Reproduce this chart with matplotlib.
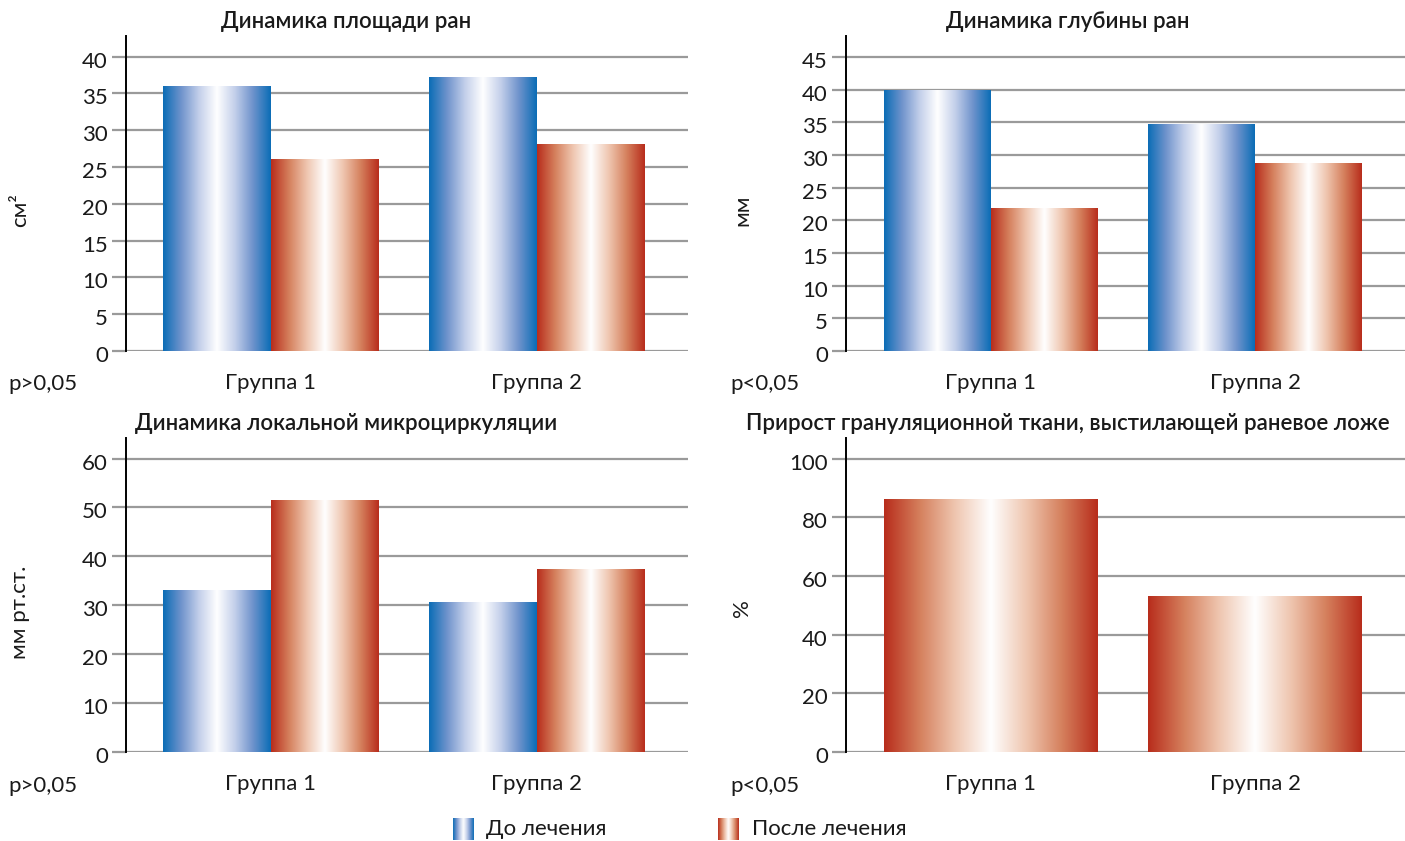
import numpy as np
import matplotlib.pyplot as plt
from matplotlib.colors import LinearSegmentedColormap
from matplotlib.transforms import ScaledTranslation

plt.rcParams['font.family'] = ['Lato', 'DejaVu Sans']

groups = ['Группа 1', 'Группа 2']
legend_labels = ['До лечения', 'После лечения']

# wound area, cm2
area_before = [36.0, 37.1]
area_after = [26.0, 28.1]
# wound depth, mm
depth_before = [39.8, 34.6]
depth_after = [21.8, 28.7]
# local microcirculation, mm Hg
micro_before = [33.1, 30.5]
micro_after = [51.5, 37.4]
# granulation tissue growth, %
granulation = [86.0, 53.0]

titles = ['Динамика площади ран', 'Динамика глубины ран',
          'Динамика локальной микроциркуляции',
          'Прирост грануляционной ткани, выстилающей раневое ложе']
ylabels = ['см²', 'мм', 'мм рт.ст.', '%']
p_values = ['p>0,05', 'p<0,05', 'p>0,05', 'p<0,05']

W, H = 1405, 841
TEXT = '#1a1a1a'
GRID = '#9a9a9a'
FS = 16

blue_cmap = LinearSegmentedColormap.from_list(
    'blue_tube', ['#0b6db6', '#6f93cc', '#c3cfea', '#ffffff',
                  '#c3cfea', '#6f93cc', '#0b6db6'])
red_cmap = LinearSegmentedColormap.from_list(
    'red_tube', ['#b82d1c', '#d5805d', '#efc6b0', '#ffffff',
                 '#efc6b0', '#d5805d', '#b82d1c'])
grad = np.linspace(0, 1, 256).reshape(1, -1)

fig = plt.figure(figsize=(W / 100, H / 100), dpi=100)


def px_axes(x0, x1, ytop, ybot):
    return fig.add_axes([x0 / W, 1 - ybot / H, (x1 - x0) / W, (ybot - ytop) / H])


def gradient_bars(ax, x, heights, width, cmap):
    bars = ax.bar(x, heights, width, color='none', zorder=2)
    for p in bars:
        x0 = p.get_x()
        ax.imshow(grad, extent=(x0, x0 + p.get_width(), 0, p.get_height()),
                  cmap=cmap, aspect='auto', interpolation='bicubic', zorder=2)
    return bars


def style_axes(ax, yticks, ymax, xlim):
    ax.set_xlim(*xlim)
    ax.set_ylim(0, ymax)
    ax.set_yticks(yticks)
    ax.set_xticks(range(len(groups)))
    ax.set_xticklabels(groups)
    ax.grid(axis='y', color=GRID, lw=1.6)
    ax.set_axisbelow(True)
    for s in ['top', 'right', 'bottom']:
        ax.spines[s].set_visible(False)
    ax.spines['left'].set_color('black')
    ax.spines['left'].set_linewidth(1.4)
    ax.spines['left'].set_zorder(3)
    ax.tick_params(axis='y', length=10, width=1.6, color=GRID, pad=3,
                   labelsize=FS, labelcolor=TEXT)
    ax.tick_params(axis='x', length=0, pad=16, labelsize=FS, labelcolor=TEXT)
    off = ScaledTranslation(0, -3 / 100, fig.dpi_scale_trans)
    for lab in ax.get_yticklabels():
        lab.set_transform(lab.get_transform() + off)


x = np.arange(len(groups))
w = 0.405

ax1 = px_axes(126, 688, 36, 351)
gradient_bars(ax1, x - w / 2, area_before, w, blue_cmap)
gradient_bars(ax1, x + w / 2, area_after, w, red_cmap)
style_axes(ax1, np.arange(0, 41, 5), 42.8, (-0.545, 1.568))

ax2 = px_axes(846, 1405, 36, 351)
gradient_bars(ax2, x - w / 2, depth_before, w, blue_cmap)
gradient_bars(ax2, x + w / 2, depth_after, w, red_cmap)
style_axes(ax2, np.arange(0, 46, 5), 48.2, (-0.549, 1.568))

ax3 = px_axes(126, 688, 438, 752)
gradient_bars(ax3, x - w / 2, micro_before, w, blue_cmap)
gradient_bars(ax3, x + w / 2, micro_after, w, red_cmap)
style_axes(ax3, np.arange(0, 61, 10), 64.2, (-0.545, 1.568))

ax4 = px_axes(846, 1405, 438, 752)
gradient_bars(ax4, x, granulation, 2 * w, red_cmap)
style_axes(ax4, np.arange(0, 101, 20), 107, (-0.549, 1.568))

# titles, units and p-values
title_pos = [(346, 22), (1068, 22), (346, 424), (1068, 424)]
ylabel_pos = [(20, 210), (742, 210), (20, 612), (742, 608)]
p_pos = [(8, 384), (730, 384), (8, 786), (730, 786)]
for t, (tx, ty) in zip(titles, title_pos):
    fig.text(tx / W, 1 - ty / H, t, ha='center', va='center', fontsize=FS,
             color=TEXT, fontweight='semibold')
for t, (tx, ty) in zip(ylabels, ylabel_pos):
    fig.text(tx / W, 1 - ty / H, t, ha='center', va='center', fontsize=FS,
             color=TEXT, rotation=90)
for t, (tx, ty) in zip(p_values, p_pos):
    fig.text(tx / W, 1 - ty / H, t, ha='left', va='center', fontsize=FS,
             color=TEXT)

# legend swatches
for (sx, tx), cmap, label in zip([(453, 486), (718, 752)], [blue_cmap, red_cmap],
                                 legend_labels):
    sw = fig.add_axes([sx / W, 1 - 840 / H, 21 / W, 22 / H])
    sw.imshow(grad, cmap=cmap, aspect='auto', interpolation='bicubic')
    sw.axis('off')
    fig.text(tx / W, 1 - 829 / H, label, ha='left', va='center', fontsize=FS,
             color=TEXT)

fig.savefig('out.png', dpi=100)
